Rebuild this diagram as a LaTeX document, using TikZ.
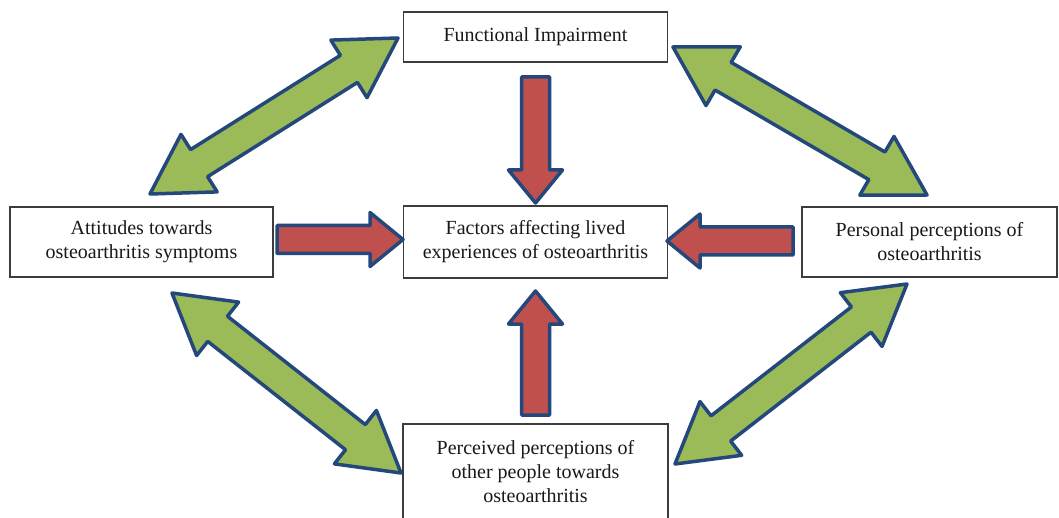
\documentclass[tikz,border=0pt]{standalone}
\usepackage{fontspec}
\setmainfont{Liberation Serif}
\usetikzlibrary{calc}

\definecolor{edgeblue}{RGB}{36,72,124}
\definecolor{leafgreen}{RGB}{155,187,89}
\definecolor{brickred}{RGB}{192,80,77}
\definecolor{boxline}{RGB}{60,60,60}
\definecolor{inktext}{RGB}{25,25,25}

\tikzset{
  factorbox/.style={draw=boxline, line width=1.2pt, fill=white, inner sep=0pt,
    align=center, text=inktext, font=\fontsize{20}{24}\selectfont},
  greenblock/.style={draw=edgeblue, line width=3.5pt, fill=leafgreen, line join=round},
  redblock/.style={draw=edgeblue, line width=3.5pt, fill=brickred, line join=round},
}

% double-headed block arrow between two named coordinates
% #1,#2 ends; head length 58, head half-width 34, shaft half-width 16
\newcommand{\twowayarrow}[2]{%
  \draw[greenblock]
    (#1)
    -- ($(#1)!58pt!(#2)!34pt!90:(#2)$)
    -- ($(#1)!58pt!(#2)!16pt!90:(#2)$)
    -- ($(#2)!58pt!(#1)!16pt!-90:(#1)$)
    -- ($(#2)!58pt!(#1)!34pt!-90:(#1)$)
    -- (#2)
    -- ($(#2)!58pt!(#1)!34pt!90:(#1)$)
    -- ($(#2)!58pt!(#1)!16pt!90:(#1)$)
    -- ($(#1)!58pt!(#2)!16pt!-90:(#2)$)
    -- ($(#1)!58pt!(#2)!34pt!-90:(#2)$)
    -- cycle;}

% single block arrow from tail #1 to tip #2
\newcommand{\oneway}[2]{%
  \draw[redblock]
    ($(#1)!14pt!90:(#2)$)
    -- ($(#2)!33pt!(#1)!14pt!-90:(#1)$)
    -- ($(#2)!33pt!(#1)!27pt!-90:(#1)$)
    -- (#2)
    -- ($(#2)!33pt!(#1)!27pt!90:(#1)$)
    -- ($(#2)!33pt!(#1)!14pt!90:(#1)$)
    -- ($(#1)!14pt!-90:(#2)$)
    -- cycle;}

\begin{document}
\begin{tikzpicture}[x=1pt, y=-1pt]
  \useasboundingbox[fill=white] (0,0) rectangle (1059,518);

  % boxes
  \node[factorbox, minimum width=264pt, minimum height=50pt] (fi) at (535.5,37)
    {Functional Impairment};
  \node[factorbox, minimum width=264pt, minimum height=72pt] (core) at (535.5,242)
    {Factors affecting lived\\experiences of osteoarthritis};
  \node[factorbox, minimum width=263pt, minimum height=70pt] (att) at (141.5,242)
    {Attitudes towards\\osteoarthritis symptoms};
  \node[factorbox, minimum width=255pt, minimum height=70pt] (pers) at (929.5,242)
    {Personal perceptions of\\osteoarthritis};
  \node[factorbox, minimum width=265pt, minimum height=96pt] (others) at (535.5,472)
    {Perceived perceptions of\\other people towards\\osteoarthritis};

  % arrow end points
  \coordinate (fiTail)   at (535.5,77);
  \coordinate (fiTip)    at (535.5,203);
  \coordinate (otTail)   at (535.5,415);
  \coordinate (otTip)    at (535.5,291);
  \coordinate (atTail)   at (277,239.5);
  \coordinate (atTip)    at (403,239.5);
  \coordinate (peTail)   at (793,241);
  \coordinate (peTip)    at (667,241);

  \coordinate (g1a) at (150,194);  \coordinate (g1b) at (398,38);
  \coordinate (g2a) at (673,47);   \coordinate (g2b) at (927,195);
  \coordinate (g3a) at (172,293);  \coordinate (g3b) at (401,473);
  \coordinate (g4a) at (907,284);  \coordinate (g4b) at (675,464);

  % influences on the central factor
  \oneway{fiTail}{fiTip}
  \oneway{otTail}{otTip}
  \oneway{atTail}{atTip}
  \oneway{peTail}{peTip}

  % mutual links around the outside
  \twowayarrow{g1a}{g1b}
  \twowayarrow{g2a}{g2b}
  \twowayarrow{g3a}{g3b}
  \twowayarrow{g4a}{g4b}
\end{tikzpicture}
\end{document}
